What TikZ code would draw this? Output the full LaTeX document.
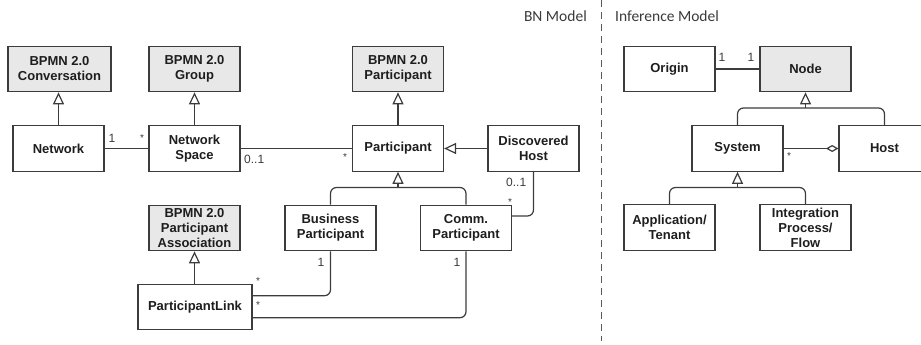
\documentclass[tikz,border=0pt]{standalone}
\usepackage{fontspec}
\setmainfont{Liberation Sans}
\newfontfamily\capfont{Carlito}
\usetikzlibrary{arrows.meta}
\definecolor{ln}{HTML}{3C3C3C}
\definecolor{gfill}{HTML}{E8E8E8}
\definecolor{txt}{HTML}{1E1E1E}
\definecolor{lbl}{HTML}{3A3A3A}
\tikzset{
  cls/.style={draw=ln, line width=1.2pt, fill=white, minimum width=91pt, minimum height=45.5pt,
    inner sep=0pt, align=center, text=txt, font=\bfseries\fontsize{13}{15}\selectfont},
  base/.style={cls, fill=gfill},
  conn/.style={draw=ln, line width=1.2pt},
  gen/.style={conn, -{Triangle[open, length=12pt, width=11pt]}},
  agg/.style={conn, -{Diamond[open, length=12.5pt, width=7pt]}},
  mult/.style={inner sep=0pt, text=lbl, font=\fontsize{12}{14}\selectfont},
  star/.style={inner sep=0pt, text=lbl, font=\fontsize{10}{12}\selectfont},
  hdr/.style={inner sep=0pt, text=lbl, font=\capfont\fontsize{15.5}{17}\selectfont},
  sep/.style={draw=ln!85, line width=1.3pt, dash pattern=on 7pt off 5pt}
}
\begin{document}
\begin{tikzpicture}[x=1pt, y=-1pt]
\useasboundingbox (0,0) rectangle (921,345);
\clip (0,0) rectangle (921,345);
% headers and separator
\node[hdr, anchor=east] (bnm) at (587,16) {BN Model};
\node[hdr, anchor=west] (infm) at (615,16) {Inference Model};
\coordinate (septop) at (601.5,0);
\coordinate (sepbot) at (601.5,341);
\draw[sep] (septop) -- (sepbot);

% BN model
\node[base, minimum width=103pt] (conv) at (59.5,69) {BPMN 2.0\\Conversation};
\node[base] (group) at (194.5,69) {BPMN 2.0\\Group};
\node[base] (bpart) at (398,69) {BPMN 2.0\\Participant};
\node[cls] (network) at (58.5,148.5) {Network};
\node[cls] (nspace) at (194.5,148.5) {Network\\Space};
\node[cls] (part) at (398,148.5) {Participant};
\node[cls] (dhost) at (533.5,148.5) {Discovered\\Host};
\node[base] (passoc) at (194.5,228) {BPMN 2.0\\Participant\\Association};
\node[cls] (bp) at (330.5,228) {Business\\Participant};
\node[cls] (cp) at (466,228) {Comm.\\Participant};
\node[cls, minimum width=114pt] (plink) at (195,307) {ParticipantLink};

\draw[gen] (network.north) -- (conv.south -| network.north);
\draw[gen] (nspace) -- (group);
\draw[gen] (part) -- (bpart);
\draw[gen] (plink.north -| passoc.south) -- (passoc.south);
\draw[gen] (dhost.west) -- (part.east);
\draw[conn] (network.east) -- (nspace.west);
\draw[conn] (nspace.east) -- (part.west);

\coordinate (fork1) at (398,187.5);
\draw[conn, rounded corners=6pt] (bp.north) |- (fork1) -| (cp.north);
\draw[gen] (fork1) -- (part.south);

\coordinate (y1) at (0,295.7);
\coordinate (y2) at (0,317.7);
\coordinate (y3) at (0,216);
\draw[conn, rounded corners=6pt] (plink.east |- y1) -| (bp.south);
\draw[conn, rounded corners=6pt] (plink.east |- y2) -| (cp.south);
\draw[conn, rounded corners=6pt] (dhost.south) |- (cp.east |- y3);

\node[mult] (m1) at (112,138) {1};
\node[star] (m2) at (142,138) {*};
\node[mult, anchor=west] (m3) at (244,159) {0..1};
\node[star] (m4) at (345,157) {*};
\node[mult, anchor=west] (m5) at (506,182) {0..1};
\node[star] (m6) at (510,202) {*};
\node[mult] (m7) at (321,262) {1};
\node[star] (m8) at (258,281) {*};
\node[mult] (m9) at (457,262) {1};
\node[star] (m10) at (258,305) {*};

% Inference model
\node[cls] (origin) at (669.5,69) {Origin};
\node[base] (node) at (805.5,69) {Node};
\node[cls] (system) at (737.5,148.5) {System};
\node[cls] (host) at (884.5,148.5) {Host};
\node[cls] (app) at (669.5,227.5) {Application/\\Tenant};
\node[cls] (integ) at (805.5,227.5) {Integration\\Process/\\Flow};

\draw[conn] (origin.east) -- (node.west);
\node[mult] (m11) at (722,57.5) {1};
\node[mult] (m12) at (751,57.5) {1};

\coordinate (fork2) at (805.5,108);
\draw[conn, rounded corners=6pt] (system.north) |- (fork2) -| (host.north);
\draw[gen] (fork2) -- (node.south);

\draw[agg] (system.east) -- (host.west);
\node[star] (m13) at (789,156) {*};

\coordinate (fork3) at (737.5,187.5);
\draw[conn, rounded corners=6pt] (app.north) |- (fork3) -| (integ.north);
\draw[gen] (fork3) -- (system.south);
\end{tikzpicture}
\end{document}
